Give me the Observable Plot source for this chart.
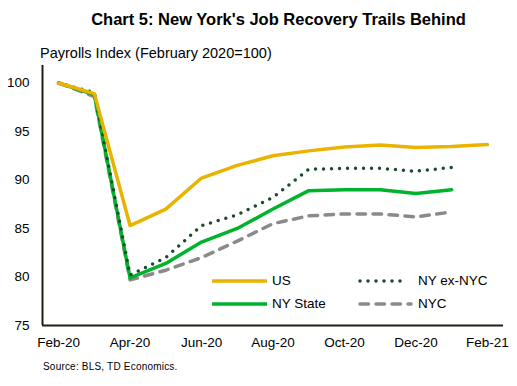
<!DOCTYPE html>
<html>
<head>
<meta charset="utf-8">
<script src="https://cdn.jsdelivr.net/npm/d3@7"></script>
<script src="https://cdn.jsdelivr.net/npm/@observablehq/plot@0.6"></script>
<style>
  body { margin: 0; background: #fff; font-family: "Liberation Sans", Arial, sans-serif; }
  #wrap { position: relative; width: 517px; height: 386px; overflow: hidden; }
  #wrap svg.plot { position: absolute; left: 0; top: 0; }
  .t { position: absolute; white-space: nowrap; color: #000; }
  #title { left: 40px; width: 477px; top: 10px; line-height: 18px; text-align: center; font-size: 16.5px; font-weight: bold; }
  #ylab { left: 40px; top: 44px; line-height: 18px; font-size: 14.5px; }
  #src { left: 43px; top: 361px; line-height: 12px; font-size: 10px; letter-spacing: 0.2px; }
  .leg { position: absolute; font-size: 13.5px; line-height: 16px; }
</style>
</head>
<body>
<div id="wrap"></div>
<script>
const months = ["Feb-20","Mar-20","Apr-20","May-20","Jun-20","Jul-20","Aug-20","Sep-20","Oct-20","Nov-20","Dec-20","Jan-21","Feb-21"];
const us       = [100, 98.9, 85.3, 87.0, 90.2, 91.5, 92.5, 93.0, 93.4, 93.6, 93.35, 93.45, 93.65];
const nyExNyc  = [100, 99.0, 80.2, 82.0, 85.3, 86.4, 88.2, 91.1, 91.2, 91.2, 90.9, 91.3];
const nyState  = [100, 98.8, 79.9, 81.4, 83.6, 85.0, 87.0, 88.9, 89.0, 89.0, 88.6, 89.0];
const nyc      = [100, 98.6, 79.7, 80.7, 82.0, 83.7, 85.5, 86.3, 86.5, 86.5, 86.2, 86.7];
const yTicks   = [75, 80, 85, 90, 95, 100];
const xTickIdx = [0, 2, 4, 6, 8, 10, 12];

const seriesNames  = ["US", "NY ex-NYC", "NY State", "NYC"];
const seriesColors = ["#E9B300", "#1B4A2C", "#00B32C", "#8A8A8A"];

const toRows = (vals) => vals.map((v, i) => ({i, v}));
const xDomain = [-0.45, 12.45];
const yDomain = [75, 101.8];
const axisColor = "#1C2212";

const chart = Plot.plot({
  width: 517,
  height: 386,
  marginLeft: 42,
  marginRight: 14,
  marginTop: 65,
  marginBottom: 61,
  style: { fontFamily: "'Liberation Sans', Arial, sans-serif", fontSize: "13.5px", color: "#000", background: "transparent" },
  x: { type: "linear", domain: xDomain, ticks: xTickIdx, tickFormat: (d) => months[d], tickSize: 0, tickPadding: 12, label: null },
  y: { domain: yDomain, ticks: yTicks, tickSize: 0, tickPadding: 13, label: null },
  marks: [
    Plot.line(toRows(nyc), { x: "i", y: "v", stroke: seriesColors[3], strokeWidth: 3.5, strokeDasharray: "8.5 7.5", strokeLinecap: "round", strokeLinejoin: "round" }),
    Plot.line(toRows(nyState), { x: "i", y: "v", stroke: seriesColors[2], strokeWidth: 3.5, strokeLinejoin: "round" }),
    Plot.line(toRows(nyExNyc), { x: "i", y: "v", stroke: seriesColors[1], strokeWidth: 3.5, strokeDasharray: "0 8", strokeLinecap: "round", strokeLinejoin: "round" }),
    Plot.line(toRows(us), { x: "i", y: "v", stroke: seriesColors[0], strokeWidth: 3.5, strokeLinejoin: "round" }),
    Plot.ruleY([yDomain[0]], { stroke: axisColor, strokeWidth: 2 }),
    Plot.ruleX([xDomain[0]], { stroke: axisColor, strokeWidth: 2 })
  ]
});
chart.classList.add("plot");

const wrap = document.getElementById("wrap");
wrap.appendChild(chart);

function addText(id, txt) {
  const d = document.createElement("div");
  d.className = "t"; d.id = id; d.textContent = txt;
  wrap.appendChild(d);
}
addText("title", "Chart 5: New York's Job Recovery Trails Behind");
addText("ylab", "Payrolls Index (February 2020=100)");
addText("src", "Source: BLS, TD Economics.");

// legend
const legendItems = [
  { name: seriesNames[0], color: seriesColors[0], dash: null, cap: "butt", left: 212, top: 281, len: 55 },
  { name: seriesNames[2], color: seriesColors[2], dash: null, cap: "butt", left: 212, top: 304, len: 55 },
  { name: seriesNames[1], color: seriesColors[1], dash: "0 8", cap: "round", left: 358, top: 281, len: 52 },
  { name: seriesNames[3], color: seriesColors[3], dash: "8.5 7.5", cap: "round", left: 358, top: 304, len: 55 }
];
const textLeft = { "US": 272, "NY State": 272, "NY ex-NYC": 418, "NYC": 418 };
for (const it of legendItems) {
  const ns = "http://www.w3.org/2000/svg";
  const svg = document.createElementNS(ns, "svg");
  svg.setAttribute("width", it.len + 6);
  svg.setAttribute("height", 8);
  svg.style.position = "absolute";
  svg.style.left = (it.left - 2) + "px";
  svg.style.top = (it.top - 4) + "px";
  const ln = document.createElementNS(ns, "line");
  const pad = it.cap === "round" ? 2 : 0;
  ln.setAttribute("x1", 2 + pad); ln.setAttribute("x2", 2 + it.len - pad);
  ln.setAttribute("y1", 4); ln.setAttribute("y2", 4);
  ln.setAttribute("stroke", it.color);
  ln.setAttribute("stroke-width", 3.5);
  ln.setAttribute("stroke-linecap", it.cap);
  if (it.dash) ln.setAttribute("stroke-dasharray", it.dash);
  svg.appendChild(ln);
  wrap.appendChild(svg);
  const d = document.createElement("div");
  d.className = "leg";
  d.textContent = it.name;
  d.style.left = textLeft[it.name] + "px";
  d.style.top = (it.top - 8) + "px";
  wrap.appendChild(d);
}
</script>
</body>
</html>
